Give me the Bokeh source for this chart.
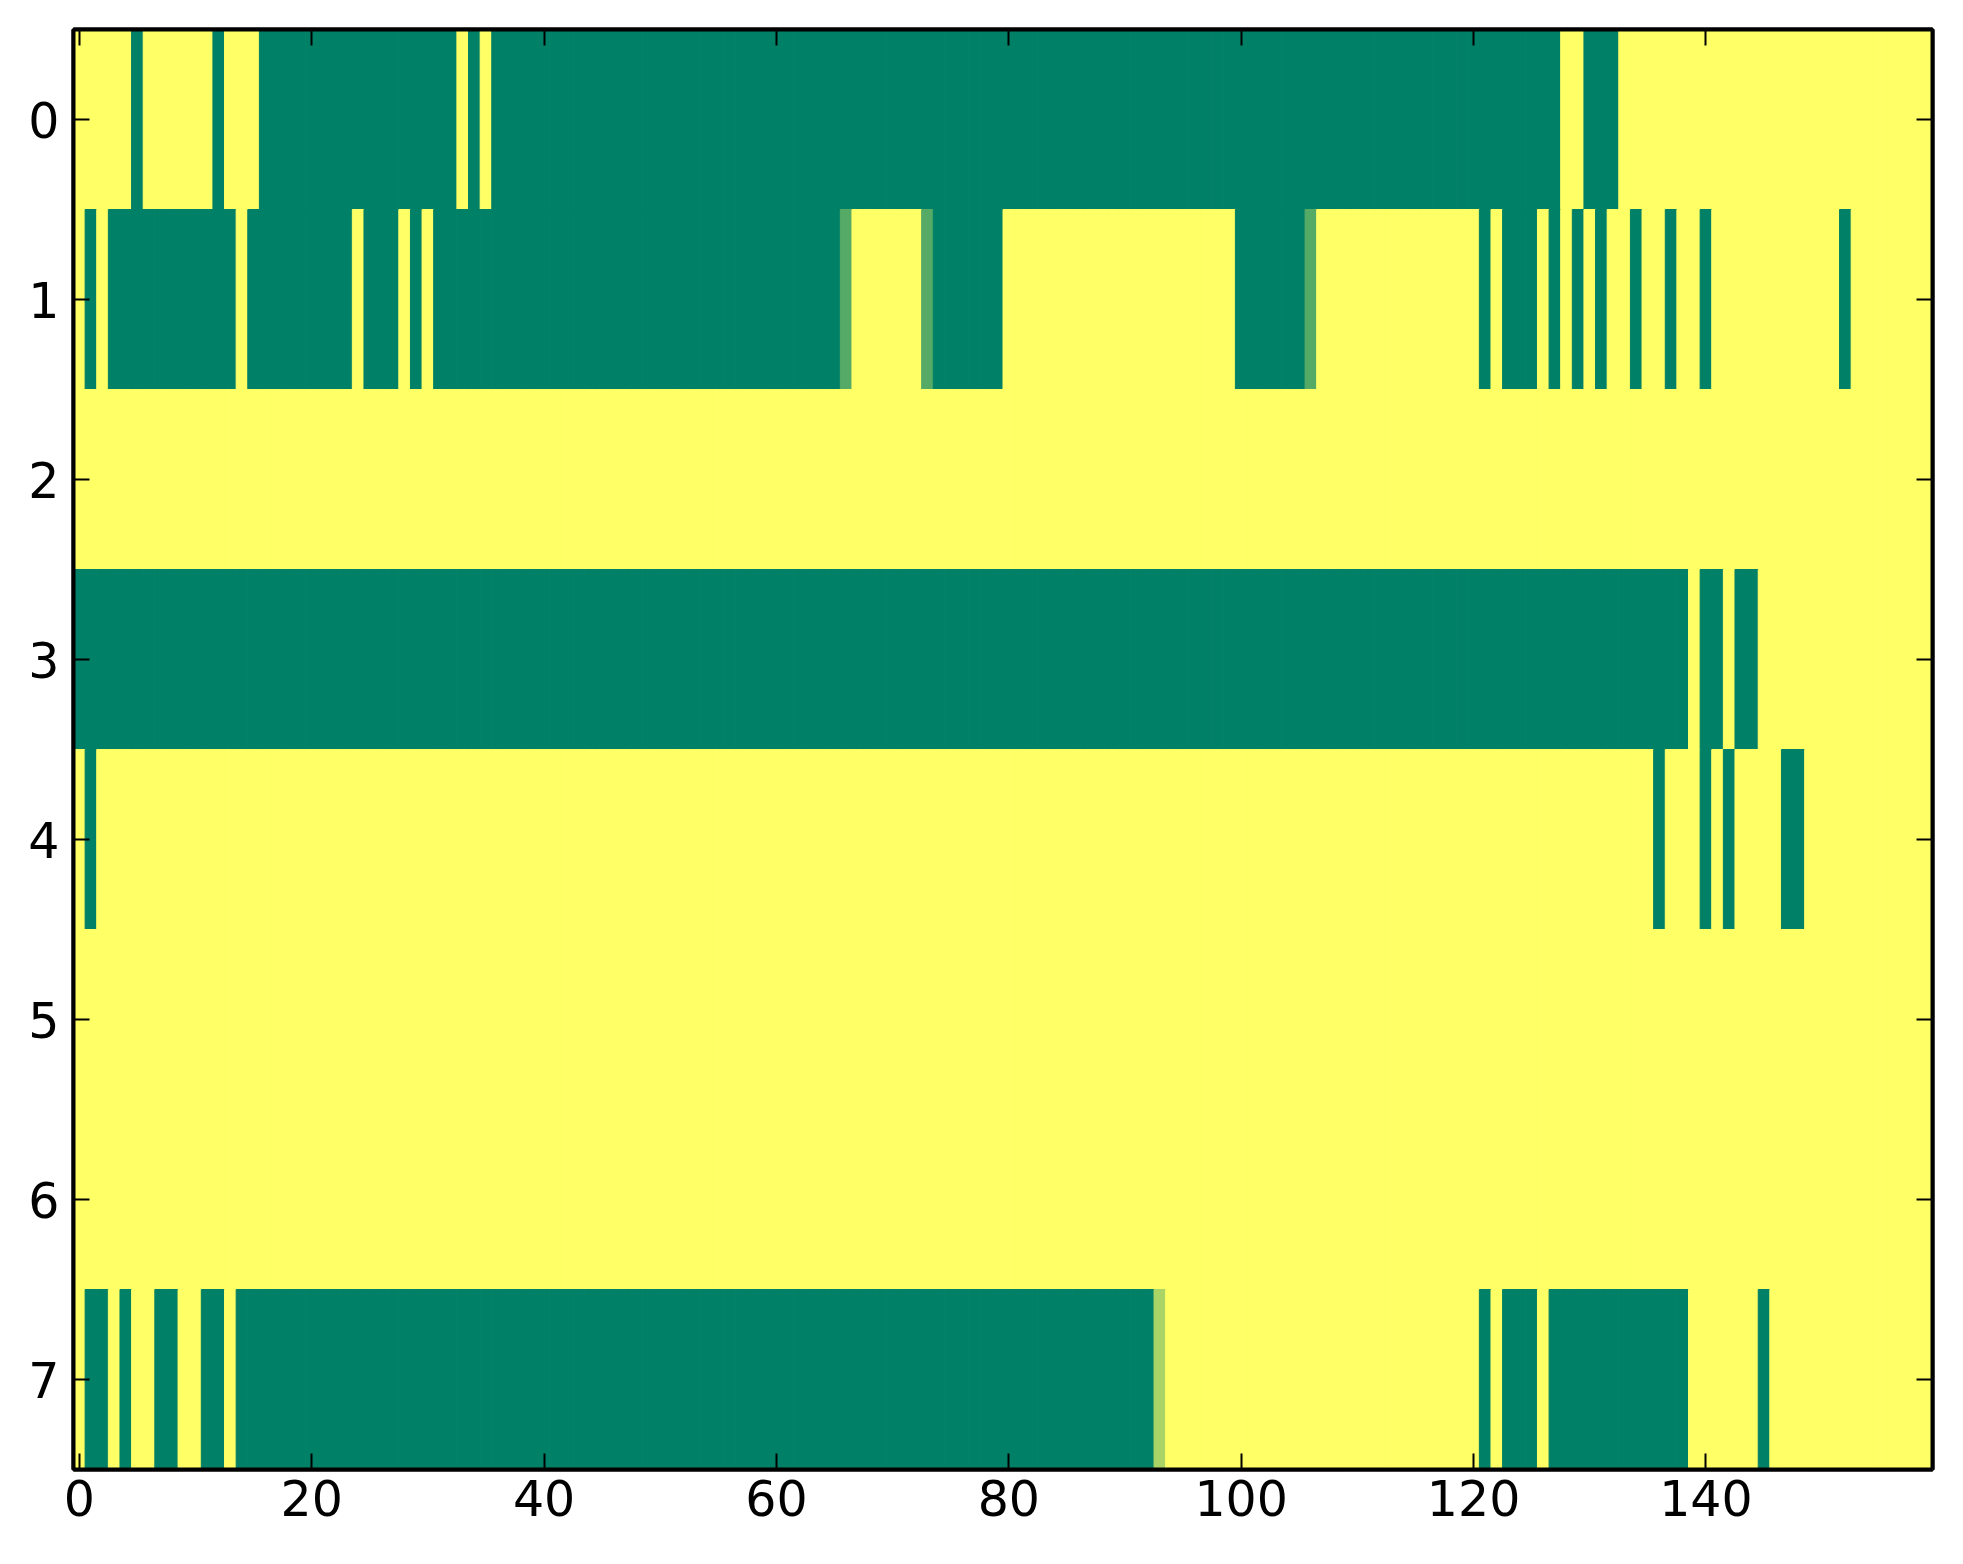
import numpy as np

from bokeh.plotting import figure
from bokeh.models import ColumnDataSource, LinearColorMapper, FixedTicker, LinearAxis, Range1d
from bokeh.transform import transform
from bokeh.embed import file_html
from bokeh.resources import INLINE


# one string per row, 160 cells; 1 = yellow, 0 = green, 3 = one third, 6 = two thirds
row0 = "1111101111 1101110000 0000000000 0001010000 0000000000 0000000000 0000000000 0000000000 0000000000 0000000000 0000000000 0000000000 0000000011 0001111111 1111111111 1111111111"
row1 = "1010000000 0000100000 0000100010 1000000000 0000000000 0000000000 0000003111 1113000000 1111111111 1111111111 0000003111 1111111111 1010001010 1011011011 0111111111 1101111111"
row2 = "1111111111 1111111111 1111111111 1111111111 1111111111 1111111111 1111111111 1111111111 1111111111 1111111111 1111111111 1111111111 1111111111 1111111111 1111111111 1111111111"
row3 = "0000000000 0000000000 0000000000 0000000000 0000000000 0000000000 0000000000 0000000000 0000000000 0000000000 0000000000 0000000000 0000000000 0000000001 0010011111 1111111111"
row4 = "1011111111 1111111111 1111111111 1111111111 1111111111 1111111111 1111111111 1111111111 1111111111 1111111111 1111111111 1111111111 1111111111 1111110111 0101111001 1111111111"
row5 = "1111111111 1111111111 1111111111 1111111111 1111111111 1111111111 1111111111 1111111111 1111111111 1111111111 1111111111 1111111111 1111111111 1111111111 1111111111 1111111111"
row6 = "1111111111 1111111111 1111111111 1111111111 1111111111 1111111111 1111111111 1111111111 1111111111 1111111111 1111111111 1111111111 1111111111 1111111111 1111111111 1111111111"
row7 = "1001011001 1001000000 0000000000 0000000000 0000000000 0000000000 0000000000 0000000000 0000000000 0006111111 1111111111 1111111111 1010001000 0000000001 1111101111 1111111111"

rows = [row0, row1, row2, row3, row4, row5, row6, row7]
levels = {"0": 0.0, "1": 1.0, "3": 1 / 3, "6": 2 / 3}

x_ticks = [0, 20, 40, 60, 80, 100, 120, 140]
y_ticks = [0, 1, 2, 3, 4, 5, 6, 7]

xs, ys, vals = [], [], []
for r, s in enumerate(rows):
    cells = s.replace(" ", "")
    assert len(cells) == 160
    for c, ch in enumerate(cells):
        xs.append(c)
        ys.append(r)
        vals.append(levels[ch])

src = ColumnDataSource(dict(x=xs, y=ys, v=vals))

# matplotlib "summer" colormap
summer = []
for v in np.linspace(0, 1, 256):
    summer.append("#%02x%02x%02x" % (round(255 * v), round(255 * (0.5 + 0.5 * v)), round(255 * 0.4)))
mapper = LinearColorMapper(palette=summer, low=0, high=1)

p = figure(frame_width=1859, frame_height=1440,
           x_range=Range1d(-0.5, 159.5), y_range=Range1d(7.5, -0.5),
           output_backend="svg", toolbar_location=None,
           min_border_left=73, min_border_top=29, min_border_right=25, min_border_bottom=85)

p.rect(x="x", y="y", width=1, height=1, source=src,
       fill_color=transform("v", mapper), line_color=transform("v", mapper), line_width=1)

p.grid.visible = False
p.outline_line_color = "black"
p.outline_line_width = 4
p.background_fill_color = "white"

p.add_layout(LinearAxis(), "above")
p.add_layout(LinearAxis(), "right")

for ax in p.xaxis:
    ax.ticker = FixedTicker(ticks=x_ticks)
for ax in p.yaxis:
    ax.ticker = FixedTicker(ticks=y_ticks)

for ax in p.axis:
    ax.axis_line_color = "black"
    ax.axis_line_width = 4
    ax.major_tick_in = 16
    ax.major_tick_out = 0
    ax.major_tick_line_width = 2
    ax.major_tick_line_color = "black"
    ax.minor_tick_line_color = None
    ax.major_label_text_font = "DejaVu Sans"
    ax.major_label_text_font_size = "49px"
    ax.major_label_text_color = "black"

p.below[0].major_label_standoff = 10
p.left[0].major_label_standoff = 14

for ax in (p.above[0], p.right[0]):
    ticks = x_ticks if ax in p.above else y_ticks
    ax.major_label_overrides = {t: "" for t in ticks}
    ax.major_label_standoff = 0

open("out.html", "w").write(file_html(p, INLINE))
